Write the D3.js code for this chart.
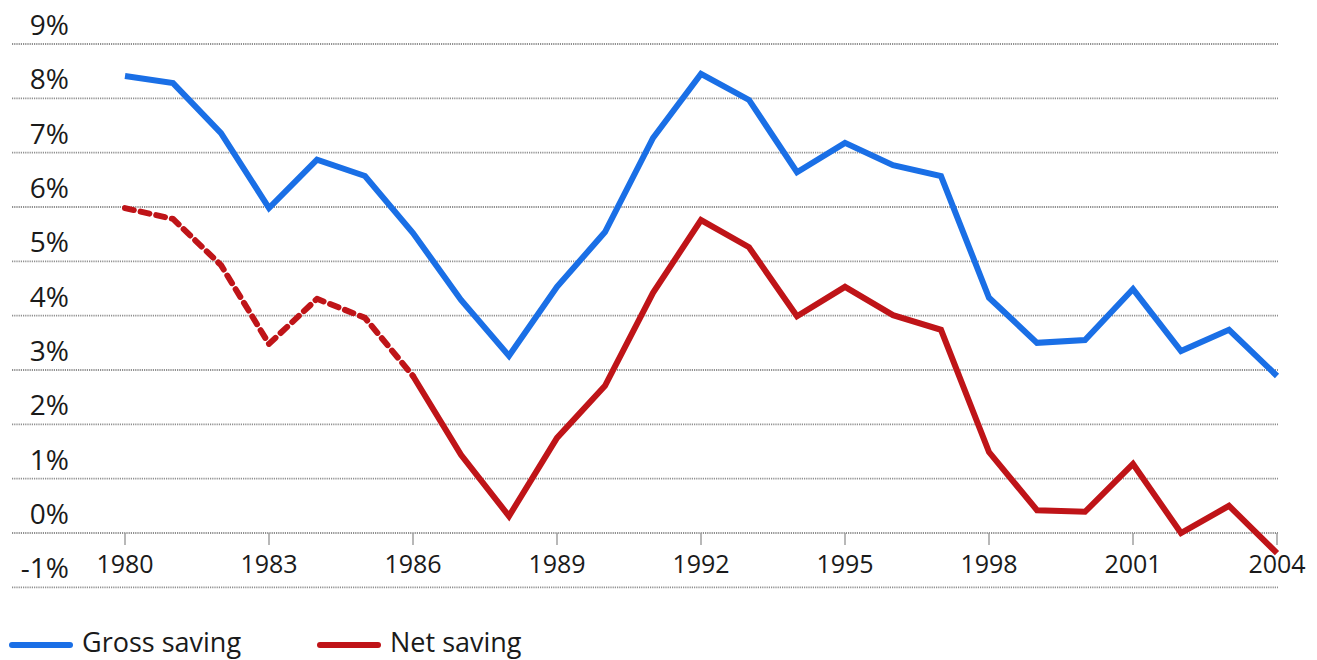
<!DOCTYPE html>
<html><head><meta charset="utf-8">
<script src="https://cdn.jsdelivr.net/npm/d3@7"></script>
<style>html,body{margin:0;padding:0;background:#fff;}svg{display:block;font-family:"Open Sans",sans-serif;}</style>
</head><body><svg id="c" width="1317" height="660"></svg>
<script>
const years = d3.range(1980, 2005);
const grossSaving = [8.41,8.28,7.36,5.98,6.87,6.57,5.52,4.29,3.26,4.53,5.54,7.27,8.45,7.97,6.64,7.18,6.77,6.57,4.33,3.50,3.55,4.49,3.35,3.74,2.89];
const netSaving = [5.98,5.78,4.93,3.48,4.31,3.96,2.89,1.44,0.31,1.75,2.71,4.42,5.76,5.26,3.99,4.53,4.01,3.74,1.49,0.42,0.39,1.27,0.0,0.5,-0.37];
const netDashedUntil = 1986;
const yTicks = [9,8,7,6,5,4,3,2,1,0,-1];
const xTickYears = [1980,1983,1986,1989,1992,1995,1998,2001,2004];
const seriesNames = ["Gross saving","Net saving"];
const colors = ["#1a6fe6","#bf1418"];

const svg = d3.select("#c");
const x = d3.scaleLinear().domain([1980,2004]).range([125,1277]);
const y = d3.scaleLinear().domain([0,9]).range([533,44]);
const gridX0 = 12, gridX1 = 1278;

// gridlines
svg.append("g").selectAll("line").data(yTicks).join("line")
  .attr("x1",gridX0).attr("x2",gridX1)
  .attr("y1",d=>y(d)).attr("y2",d=>y(d))
  .attr("stroke","#8f8f8f").attr("stroke-width",1.8).attr("stroke-dasharray","1.2,1");

// y labels
svg.append("g").selectAll("text").data(yTicks).join("text")
  .attr("x",69).attr("y",d=>y(d)-9)
  .attr("text-anchor","end").attr("font-size",28).attr("fill","#1a1a1a")
  .text(d=>d+"%");

// x axis ticks and labels
const xa = svg.append("g");
xa.selectAll("line").data(xTickYears).join("line")
  .attr("x1",d=>x(d)).attr("x2",d=>x(d)).attr("y1",y(0)).attr("y2",y(0)+12)
  .attr("stroke","#9a9a9a").attr("stroke-width",1.4);
xa.selectAll("text").data(xTickYears).join("text")
  .attr("x",d=>x(d)).attr("y",573).attr("text-anchor","middle")
  .attr("font-size",25).attr("fill","#1a1a1a").text(d=>d);

const line = d3.line().x(d=>x(d[0])).y(d=>y(d[1]));
const grossPts = years.map((yr,i)=>[yr,grossSaving[i]]);
const netPts = years.map((yr,i)=>[yr,netSaving[i]]);

svg.append("path").attr("d",line(grossPts)).attr("fill","none")
  .attr("stroke",colors[0]).attr("stroke-width",6).attr("stroke-linejoin","miter").attr("stroke-linecap","butt");

svg.append("path").attr("d",line(netPts.filter(d=>d[0]<=netDashedUntil))).attr("fill","none")
  .attr("stroke",colors[1]).attr("stroke-width",6).attr("stroke-dasharray","9,7").attr("stroke-linecap","round").attr("stroke-linejoin","round");
svg.append("path").attr("d",line(netPts.filter(d=>d[0]>=netDashedUntil))).attr("fill","none")
  .attr("stroke",colors[1]).attr("stroke-width",6).attr("stroke-linejoin","miter");

// legend
const lg = svg.append("g");
const legX = [12, 320];
seriesNames.forEach((n,i)=>{
  lg.append("line").attr("x1",legX[i]).attr("x2",legX[i]+58).attr("y1",645).attr("y2",645)
    .attr("stroke",colors[i]).attr("stroke-width",6).attr("stroke-linecap","round");
  lg.append("text").attr("x",legX[i]+70).attr("y",652).attr("font-size",27).attr("fill","#1a1a1a").text(n);
});
</script></body></html>
